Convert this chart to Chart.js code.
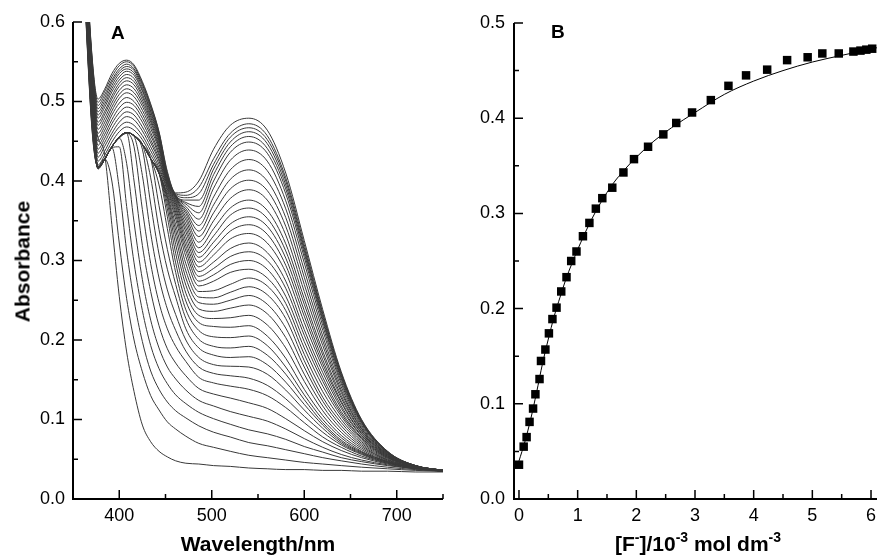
<!DOCTYPE html>
<html>
<head>
<meta charset="utf-8">
<script src="https://cdn.jsdelivr.net/npm/chart.js@4.4.1/dist/chart.umd.min.js"></script>
<style>
  html, body { margin: 0; padding: 0; background: #fff; overflow: hidden; }
  body { position: relative; width: 877px; height: 557px; font-family: "Liberation Sans", Arial, sans-serif; color: #000; }
  #chartA { position: absolute; left: 0; top: 0; }
  #chartB { position: absolute; left: 450px; top: 0; }
  .label { position: absolute; font-weight: bold; white-space: nowrap; line-height: 1; }
  .axis-title { font-size: 21px; text-align: center; width: 260px; }
  .panel-tag { font-size: 19px; }
  .axis-title sup { font-size: 14px; position: relative; top: -0.1em; vertical-align: super; line-height: 0; }
  #titleAbs { left: -108px; top: 251px; transform: rotate(-90deg); }
  #titleWave { left: 128px; top: 533px; }
  #titleConc { left: 568px; top: 533px; }
  #tagA { left: 111px; top: 23px; }
  #tagB { left: 551px; top: 22px; }
</style>
</head>
<body>
<canvas id="chartA" width="450" height="557"></canvas>
<canvas id="chartB" width="460" height="557"></canvas>

<div class="label axis-title" id="titleAbs">Absorbance</div>
<div class="label axis-title" id="titleWave">Wavelength/nm</div>
<div class="label axis-title" id="titleConc">[F<sup>-</sup>]/10<sup>-3</sup> mol dm<sup>-3</sup></div>
<div class="label panel-tag" id="tagA">A</div>
<div class="label panel-tag" id="tagB">B</div>

<script>
/* =========================================================
   DATA - panel A (titration spectra)
========================================================= */

const wavelengthsNm = [355, 364, 371, 377, 384, 392, 400, 408, 416, 425, 434, 443, 452, 461,
  472, 486, 502, 520, 540, 560, 580, 600, 620, 640, 662, 690, 720, 750];

// one row per spectrum, lowest [F-] first
const absorbanceSpectra = [
  [0.85, 0.62, 0.50, 0.455, 0.435, 0.345, 0.255, 0.185, 0.135, 0.093, 0.072, 0.06, 0.053, 0.048, 0.045, 0.044, 0.042, 0.041, 0.039, 0.038, 0.037, 0.037, 0.036, 0.036, 0.035, 0.035, 0.034, 0.034],
  [0.853, 0.602, 0.458, 0.418, 0.428, 0.40, 0.322, 0.252, 0.20, 0.16, 0.13, 0.112, 0.097, 0.088, 0.079, 0.07, 0.065, 0.06, 0.055, 0.052, 0.049, 0.046, 0.044, 0.042, 0.04, 0.038, 0.036, 0.035],
  [0.856, 0.605, 0.46, 0.418, 0.427, 0.442, 0.391, 0.312, 0.25, 0.198, 0.161, 0.138, 0.122, 0.111, 0.102, 0.092, 0.084, 0.078, 0.071, 0.067, 0.062, 0.057, 0.052, 0.048, 0.044, 0.04, 0.037, 0.035],
  [0.859, 0.607, 0.463, 0.418, 0.427, 0.442, 0.443, 0.368, 0.297, 0.237, 0.193, 0.164, 0.145, 0.131, 0.12, 0.109, 0.101, 0.094, 0.087, 0.082, 0.075, 0.066, 0.059, 0.052, 0.047, 0.042, 0.038, 0.035],
  [0.862, 0.61, 0.465, 0.417, 0.427, 0.443, 0.454, 0.422, 0.348, 0.276, 0.225, 0.19, 0.166, 0.151, 0.137, 0.124, 0.117, 0.11, 0.104, 0.098, 0.088, 0.076, 0.065, 0.056, 0.049, 0.043, 0.038, 0.035],
  [0.865, 0.612, 0.468, 0.417, 0.427, 0.443, 0.454, 0.46, 0.40, 0.319, 0.261, 0.218, 0.189, 0.171, 0.155, 0.139, 0.132, 0.127, 0.121, 0.114, 0.101, 0.086, 0.072, 0.061, 0.052, 0.044, 0.038, 0.035],
  [0.868, 0.614, 0.471, 0.417, 0.427, 0.443, 0.455, 0.46, 0.443, 0.364, 0.296, 0.247, 0.214, 0.192, 0.173, 0.153, 0.146, 0.142, 0.138, 0.13, 0.115, 0.096, 0.078, 0.065, 0.054, 0.045, 0.039, 0.035],
  [0.871, 0.617, 0.473, 0.417, 0.427, 0.443, 0.455, 0.461, 0.456, 0.407, 0.334, 0.278, 0.239, 0.212, 0.186, 0.166, 0.158, 0.155, 0.152, 0.143, 0.126, 0.104, 0.084, 0.068, 0.056, 0.045, 0.039, 0.035],
  [0.874, 0.619, 0.476, 0.416, 0.427, 0.443, 0.455, 0.461, 0.457, 0.44, 0.371, 0.308, 0.263, 0.232, 0.2, 0.178, 0.169, 0.167, 0.166, 0.157, 0.137, 0.112, 0.089, 0.07, 0.057, 0.046, 0.039, 0.035],
  [0.877, 0.622, 0.478, 0.416, 0.427, 0.443, 0.455, 0.461, 0.457, 0.446, 0.404, 0.339, 0.289, 0.254, 0.214, 0.19, 0.181, 0.178, 0.179, 0.169, 0.147, 0.119, 0.093, 0.072, 0.058, 0.046, 0.039, 0.035],
  [0.88, 0.624, 0.481, 0.416, 0.427, 0.443, 0.455, 0.461, 0.457, 0.446, 0.428, 0.369, 0.314, 0.27, 0.227, 0.201, 0.192, 0.19, 0.192, 0.181, 0.157, 0.125, 0.096, 0.074, 0.059, 0.047, 0.039, 0.035],
  [0.883, 0.626, 0.484, 0.416, 0.427, 0.443, 0.455, 0.461, 0.457, 0.446, 0.428, 0.395, 0.34, 0.285, 0.238, 0.212, 0.204, 0.203, 0.205, 0.193, 0.166, 0.131, 0.1, 0.077, 0.06, 0.047, 0.039, 0.035],
  [0.886, 0.629, 0.486, 0.416, 0.427, 0.443, 0.455, 0.461, 0.457, 0.446, 0.428, 0.41, 0.355, 0.297, 0.249, 0.222, 0.217, 0.216, 0.218, 0.205, 0.177, 0.138, 0.105, 0.08, 0.062, 0.047, 0.039, 0.035],
  [0.889, 0.631, 0.489, 0.416, 0.427, 0.443, 0.455, 0.461, 0.457, 0.446, 0.428, 0.41, 0.365, 0.309, 0.259, 0.231, 0.227, 0.228, 0.231, 0.219, 0.19, 0.148, 0.111, 0.084, 0.064, 0.048, 0.039, 0.036],
  [0.892, 0.634, 0.491, 0.416, 0.427, 0.443, 0.455, 0.461, 0.457, 0.446, 0.428, 0.41, 0.372, 0.32, 0.269, 0.239, 0.236, 0.24, 0.244, 0.233, 0.203, 0.157, 0.117, 0.088, 0.066, 0.049, 0.04, 0.036],
  [0.895, 0.636, 0.494, 0.416, 0.427, 0.443, 0.455, 0.461, 0.457, 0.446, 0.428, 0.41, 0.377, 0.33, 0.278, 0.247, 0.245, 0.25, 0.256, 0.245, 0.215, 0.166, 0.123, 0.092, 0.068, 0.049, 0.04, 0.036],
  [0.898, 0.638, 0.497, 0.416, 0.427, 0.443, 0.455, 0.461, 0.457, 0.446, 0.428, 0.41, 0.38, 0.338, 0.287, 0.254, 0.253, 0.26, 0.267, 0.257, 0.227, 0.174, 0.128, 0.096, 0.07, 0.05, 0.04, 0.036],
  [0.901, 0.641, 0.499, 0.416, 0.427, 0.443, 0.455, 0.461, 0.457, 0.446, 0.428, 0.41, 0.382, 0.345, 0.296, 0.261, 0.262, 0.27, 0.278, 0.268, 0.237, 0.182, 0.135, 0.1, 0.072, 0.051, 0.04, 0.036],
  [0.904, 0.643, 0.502, 0.415, 0.427, 0.443, 0.455, 0.461, 0.457, 0.446, 0.428, 0.41, 0.385, 0.352, 0.305, 0.268, 0.274, 0.285, 0.289, 0.278, 0.246, 0.19, 0.142, 0.104, 0.074, 0.052, 0.041, 0.036],
  [0.907, 0.646, 0.504, 0.42, 0.432, 0.449, 0.462, 0.468, 0.464, 0.452, 0.433, 0.414, 0.388, 0.357, 0.312, 0.274, 0.282, 0.295, 0.3, 0.289, 0.255, 0.198, 0.148, 0.107, 0.076, 0.052, 0.041, 0.036],
  [0.91, 0.648, 0.507, 0.425, 0.437, 0.455, 0.468, 0.474, 0.47, 0.457, 0.438, 0.417, 0.39, 0.361, 0.318, 0.28, 0.29, 0.305, 0.311, 0.3, 0.265, 0.206, 0.153, 0.11, 0.077, 0.053, 0.041, 0.036],
  [0.913, 0.65, 0.51, 0.43, 0.443, 0.46, 0.474, 0.481, 0.477, 0.463, 0.443, 0.421, 0.392, 0.365, 0.324, 0.286, 0.298, 0.315, 0.322, 0.31, 0.274, 0.213, 0.159, 0.114, 0.079, 0.053, 0.041, 0.036],
  [0.916, 0.653, 0.512, 0.435, 0.448, 0.466, 0.48, 0.487, 0.483, 0.468, 0.448, 0.425, 0.394, 0.368, 0.33, 0.292, 0.307, 0.327, 0.334, 0.322, 0.285, 0.222, 0.165, 0.117, 0.08, 0.054, 0.041, 0.036],
  [0.919, 0.655, 0.515, 0.44, 0.453, 0.472, 0.486, 0.493, 0.489, 0.474, 0.452, 0.428, 0.395, 0.371, 0.336, 0.298, 0.315, 0.337, 0.345, 0.333, 0.294, 0.23, 0.17, 0.121, 0.082, 0.054, 0.041, 0.036],
  [0.922, 0.658, 0.517, 0.445, 0.458, 0.477, 0.492, 0.499, 0.495, 0.479, 0.457, 0.432, 0.397, 0.373, 0.341, 0.304, 0.323, 0.346, 0.355, 0.343, 0.303, 0.237, 0.175, 0.123, 0.083, 0.055, 0.041, 0.036],
  [0.925, 0.66, 0.52, 0.45, 0.463, 0.483, 0.498, 0.505, 0.5, 0.484, 0.461, 0.435, 0.398, 0.375, 0.346, 0.31, 0.331, 0.357, 0.366, 0.353, 0.312, 0.245, 0.181, 0.127, 0.085, 0.055, 0.041, 0.036],
  [0.928, 0.662, 0.523, 0.455, 0.468, 0.488, 0.504, 0.511, 0.506, 0.489, 0.466, 0.439, 0.399, 0.377, 0.351, 0.316, 0.34, 0.366, 0.376, 0.363, 0.321, 0.252, 0.186, 0.13, 0.086, 0.056, 0.041, 0.036],
  [0.931, 0.665, 0.525, 0.46, 0.473, 0.493, 0.509, 0.516, 0.511, 0.494, 0.47, 0.442, 0.4, 0.378, 0.355, 0.323, 0.35, 0.378, 0.389, 0.376, 0.332, 0.261, 0.193, 0.134, 0.088, 0.056, 0.041, 0.036],
  [0.934, 0.667, 0.528, 0.465, 0.478, 0.498, 0.514, 0.521, 0.516, 0.498, 0.474, 0.444, 0.401, 0.379, 0.359, 0.33, 0.36, 0.39, 0.401, 0.388, 0.343, 0.27, 0.199, 0.137, 0.089, 0.057, 0.042, 0.036],
  [0.937, 0.67, 0.53, 0.47, 0.483, 0.503, 0.519, 0.526, 0.521, 0.502, 0.477, 0.447, 0.402, 0.38, 0.362, 0.337, 0.37, 0.402, 0.414, 0.4, 0.354, 0.279, 0.205, 0.141, 0.091, 0.057, 0.042, 0.036],
  [0.94, 0.672, 0.533, 0.474, 0.487, 0.507, 0.523, 0.53, 0.525, 0.506, 0.48, 0.45, 0.403, 0.38, 0.365, 0.344, 0.38, 0.414, 0.427, 0.413, 0.365, 0.288, 0.212, 0.145, 0.093, 0.058, 0.042, 0.036],
  [0.943, 0.674, 0.536, 0.479, 0.492, 0.512, 0.527, 0.534, 0.529, 0.509, 0.483, 0.452, 0.404, 0.381, 0.368, 0.352, 0.391, 0.426, 0.439, 0.425, 0.375, 0.297, 0.218, 0.148, 0.095, 0.058, 0.042, 0.036],
  [0.946, 0.677, 0.538, 0.483, 0.496, 0.516, 0.531, 0.538, 0.533, 0.513, 0.486, 0.454, 0.405, 0.381, 0.371, 0.36, 0.4, 0.436, 0.449, 0.435, 0.384, 0.304, 0.223, 0.151, 0.096, 0.059, 0.042, 0.036],
  [0.949, 0.679, 0.541, 0.487, 0.5, 0.52, 0.535, 0.541, 0.536, 0.515, 0.488, 0.456, 0.406, 0.382, 0.373, 0.368, 0.408, 0.443, 0.456, 0.441, 0.39, 0.309, 0.226, 0.153, 0.097, 0.059, 0.042, 0.036],
  [0.952, 0.682, 0.543, 0.491, 0.504, 0.524, 0.538, 0.544, 0.539, 0.518, 0.491, 0.458, 0.407, 0.382, 0.376, 0.376, 0.415, 0.449, 0.462, 0.447, 0.395, 0.313, 0.229, 0.155, 0.098, 0.059, 0.042, 0.036],
  [0.955, 0.684, 0.546, 0.495, 0.508, 0.527, 0.541, 0.547, 0.541, 0.521, 0.493, 0.459, 0.408, 0.383, 0.379, 0.384, 0.421, 0.455, 0.467, 0.452, 0.4, 0.316, 0.232, 0.157, 0.098, 0.059, 0.042, 0.036],
  [0.958, 0.686, 0.549, 0.499, 0.512, 0.531, 0.545, 0.55, 0.544, 0.523, 0.495, 0.461, 0.41, 0.384, 0.382, 0.392, 0.428, 0.46, 0.472, 0.457, 0.404, 0.32, 0.234, 0.158, 0.099, 0.06, 0.042, 0.036],
  [0.961, 0.689, 0.551, 0.503, 0.515, 0.535, 0.548, 0.552, 0.546, 0.525, 0.497, 0.462, 0.412, 0.385, 0.386, 0.40, 0.44, 0.47, 0.479, 0.464, 0.41, 0.325, 0.238, 0.16, 0.1, 0.06, 0.042, 0.036]
];

const wavelengthTicks = [350, 400, 450, 500, 550, 600, 650, 700, 750];
const absorbanceTicksA = [0, 0.05, 0.1, 0.15, 0.2, 0.25, 0.3, 0.35, 0.4, 0.45, 0.5, 0.55, 0.6];

/* =========================================================
   DATA - panel B (binding isotherm)
========================================================= */

const fluorideConc = [0, 0.08, 0.13, 0.18, 0.24, 0.28, 0.35, 0.375, 0.45, 0.51, 0.57, 0.64,
  0.72, 0.81, 0.89, 0.98, 1.09, 1.2, 1.31, 1.42, 1.59, 1.78, 1.96, 2.2, 2.46, 2.68, 2.95,
  3.27, 3.57, 3.87, 4.23, 4.57, 4.92, 5.17, 5.45, 5.7, 5.82, 5.92, 6.02];
const measuredAbs = [0.036, 0.055, 0.065, 0.081, 0.095, 0.11, 0.126, 0.145, 0.157, 0.174, 0.189, 0.201,
  0.218, 0.233, 0.25, 0.26, 0.276, 0.29, 0.305, 0.316, 0.327, 0.343, 0.357, 0.37, 0.383, 0.395, 0.406,
  0.419, 0.434, 0.445, 0.451, 0.461, 0.464, 0.468, 0.468, 0.47, 0.471, 0.472, 0.473];

const fitConc = [0, 0.1, 0.2, 0.3, 0.4, 0.5, 0.6, 0.7, 0.8, 0.9, 1.0, 1.2, 1.4, 1.6, 1.8, 2.0,
  2.3, 2.6, 3.0, 3.5, 4.0, 4.5, 5.0, 5.5, 6.1];
const fitAbs = [0.04, 0.06, 0.084, 0.112, 0.142, 0.168, 0.192, 0.212, 0.231, 0.247, 0.262, 0.289,
  0.312, 0.331, 0.346, 0.359, 0.376, 0.39, 0.406, 0.425, 0.439, 0.45, 0.459, 0.466, 0.474];

const concTicks = [0, 0.5, 1, 1.5, 2, 2.5, 3, 3.5, 4, 4.5, 5, 5.5, 6];
const absorbanceTicksB = [0, 0.05, 0.1, 0.15, 0.2, 0.25, 0.3, 0.35, 0.4, 0.45, 0.5];

/* =========================================================
   STYLE
========================================================= */

const INK = "#000";
const SPECTRUM_COLOR = "#383838";
const FONT = '"Liberation Sans", Arial, sans-serif';

Chart.defaults.font.family = FONT;
Chart.defaults.font.size = 18;
Chart.defaults.color = INK;

/* =========================================================
   HELPERS
========================================================= */

function isMultiple(value, step) {
  const r = value / step;
  return Math.abs(r - Math.round(r)) < 1e-6;
}

function toPoints(xs, ys) {
  return xs.map((x, k) => ({ x, y: ys[k] }));
}

// axis lines plus inward major/minor ticks, the way the original plot does it
const axisFrame = {
  id: "axisFrame",
  afterDraw(chart, _args, opts) {
    const { ctx, chartArea } = chart;
    const xs = chart.scales.x;
    const ys = chart.scales.y;

    ctx.save();
    ctx.strokeStyle = INK;
    ctx.lineWidth = 1.5;
    ctx.beginPath();
    xs.ticks.forEach((t) => {
      const px = xs.getPixelForValue(t.value);
      const len = isMultiple(t.value, opts.xMajor) ? 9 : 5;
      ctx.moveTo(px, chartArea.bottom);
      ctx.lineTo(px, chartArea.bottom - len);
    });
    ys.ticks.forEach((t) => {
      const py = ys.getPixelForValue(t.value);
      const len = isMultiple(t.value, opts.yMajor) ? 9 : 5;
      ctx.moveTo(chartArea.left, py);
      ctx.lineTo(chartArea.left + len, py);
    });
    ctx.stroke();

    ctx.lineWidth = 2;
    ctx.beginPath();
    ctx.moveTo(chartArea.left, chartArea.top);
    ctx.lineTo(chartArea.left, chartArea.bottom);
    ctx.lineTo(chartArea.right, chartArea.bottom);
    ctx.stroke();
    ctx.restore();
  }
};

function axisOptions({ min, max, ticks, major, decimals, padding, fitSize, horizontal }) {
  return {
    type: "linear",
    min,
    max,
    grid: { display: false, drawTicks: false },
    border: { display: false },
    afterBuildTicks: (axis) => {
      axis.ticks = ticks.map((v) => ({ value: v }));
    },
    afterFit: (axis) => {
      if (horizontal) axis.height = fitSize;
      else axis.width = fitSize;
    },
    ticks: {
      autoSkip: false,
      maxRotation: 0,
      padding,
      callback: (v) => {
        if (!isMultiple(v, major)) return "";
        if (horizontal && (v <= min || v >= max)) return "";
        return v.toFixed(decimals);
      }
    }
  };
}

/* =========================================================
   PANEL A
========================================================= */

new Chart(document.getElementById("chartA"), {
  type: "line",
  data: {
    datasets: absorbanceSpectra.map((row) => ({
      data: toPoints(wavelengthsNm, row),
      borderColor: SPECTRUM_COLOR,
      borderWidth: 1,
      pointRadius: 0,
      cubicInterpolationMode: "monotone",
      fill: false
    }))
  },
  options: {
    responsive: false,
    animation: false,
    events: [],
    layout: { padding: { left: 0, top: 22, right: 7, bottom: 0 } },
    plugins: {
      legend: { display: false },
      tooltip: { enabled: false },
      axisFrame: { xMajor: 100, yMajor: 0.1 }
    },
    scales: {
      x: axisOptions({ min: 350, max: 750, ticks: wavelengthTicks, major: 100, decimals: 0, padding: 6, fitSize: 58, horizontal: true }),
      y: axisOptions({ min: 0, max: 0.6, ticks: absorbanceTicksA, major: 0.1, decimals: 1, padding: 8, fitSize: 73, horizontal: false })
    }
  },
  plugins: [axisFrame]
});

/* =========================================================
   PANEL B
========================================================= */

new Chart(document.getElementById("chartB"), {
  type: "scatter",
  data: {
    datasets: [
      {
        type: "line",
        data: toPoints(fitConc, fitAbs),
        borderColor: INK,
        borderWidth: 1,
        pointRadius: 0,
        cubicInterpolationMode: "monotone",
        fill: false
      },
      {
        data: toPoints(fluorideConc, measuredAbs),
        pointStyle: "rect",
        pointRadius: 6,
        pointBackgroundColor: INK,
        pointBorderWidth: 0,
        showLine: false
      }
    ]
  },
  options: {
    responsive: false,
    animation: false,
    events: [],
    layout: { padding: { left: 0, top: 23, right: 33, bottom: 0 } },
    plugins: {
      legend: { display: false },
      tooltip: { enabled: false },
      axisFrame: { xMajor: 1, yMajor: 0.1 }
    },
    scales: {
      x: axisOptions({ min: -0.085, max: 6.102, ticks: concTicks, major: 1, decimals: 0, padding: 6, fitSize: 58, horizontal: true }),
      y: axisOptions({ min: 0, max: 0.5, ticks: absorbanceTicksB, major: 0.1, decimals: 1, padding: 9, fitSize: 64, horizontal: false })
    }
  },
  plugins: [axisFrame]
});
</script>
</body>
</html>
